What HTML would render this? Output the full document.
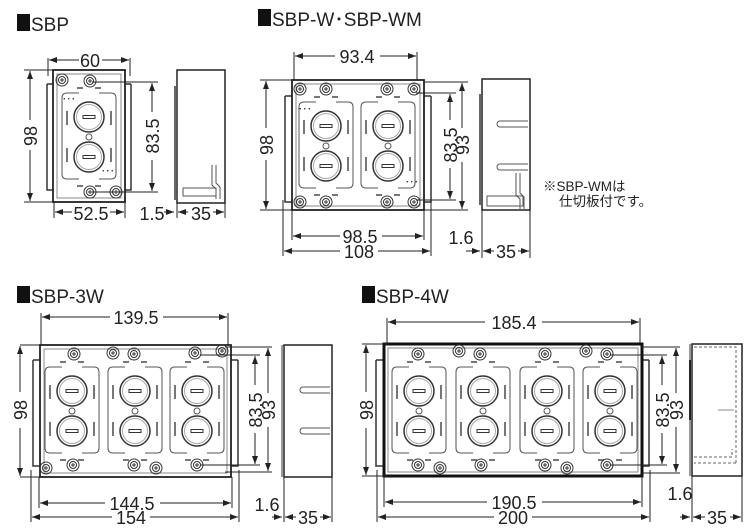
<!DOCTYPE html>
<html><head><meta charset="utf-8">
<style>
html,body{margin:0;padding:0;background:#fff;}
svg{display:block;}
text{font-family:"Liberation Sans","Noto Sans CJK JP",sans-serif;fill:#222;}
.n{font-size:18px;}
.t{font-size:19px;}
</style></head><body>
<svg width="750" height="528" viewBox="0 0 750 528" xmlns="http://www.w3.org/2000/svg">
<defs>
<marker id="a" markerWidth="8" markerHeight="6" refX="8" refY="3" orient="auto-start-reverse" markerUnits="userSpaceOnUse"><path d="M0,0 L8,3 L0,6 z" fill="#222"/></marker>
<g id="gang" fill="none" stroke="#555" stroke-width="1">
  <path d="M-10,-43 h-12 q-5,0 -5,5 v76 q0,5 5,5 h12 M10,-43 h12 q5,0 5,5 v76 q0,5 -5,5 h-12" />
  <circle cx="0" cy="-19" r="15" stroke="#333" stroke-width="1.5"/>
  <circle cx="0" cy="-19" r="12.5" stroke="#aaa"/>
  <rect x="-6" y="-20.5" width="12" height="3" stroke="#333"/>
  <circle cx="0" cy="21" r="15" stroke="#333" stroke-width="1.5"/>
  <circle cx="0" cy="21" r="12.5" stroke="#aaa"/>
  <rect x="-6" y="19.5" width="12" height="3" stroke="#333"/>
  <circle cx="0" cy="1" r="3"/>
  <path d="M-22,-25 v14 M-22,12 v14 M22,-25 v14 M22,12 v14" stroke="#777" stroke-width="2"/>
  <path d="M-12,-48 h6 M6,-48 h6 M-12,50 h6 M6,50 h6" stroke="#777" stroke-width="2"/>
</g>
<g id="screw" fill="none" stroke="#333"><circle r="6"/><circle r="3.5"/><path d="M-2,0h4M0,-2v4"/></g>
</defs>

<!-- ===== SBP ===== -->
<rect x="17" y="14" width="13" height="17" fill="#111"/>
<text x="31" y="31" class="t">SBP</text>
<line x1="48" y1="58" x2="48" y2="76" stroke="#222"/><line x1="130" y1="58" x2="130" y2="76" stroke="#222"/>
<line x1="49" y1="60" x2="79" y2="60" stroke="#222" marker-start="url(#a)"/>
<line x1="102" y1="60" x2="129" y2="60" stroke="#222" marker-end="url(#a)"/>
<text x="90" y="67" class="n" text-anchor="middle">60</text>
<path d="M47,84 h6 M47,84 v106 h6 M131,84 h-6 M131,84 v106 h-6" fill="none" stroke="#333" stroke-width="1.5"/>
<rect x="53" y="70" width="72" height="132" fill="#fff" stroke="#222" stroke-width="1.8"/>
<rect x="57" y="74" width="64" height="124" fill="none" stroke="#888"/>
<use href="#gang" x="89" y="136"/>
<use href="#screw" x="62" y="80"/><use href="#screw" x="90" y="81"/>
<use href="#screw" x="90" y="192"/><use href="#screw" x="116" y="192"/>
<text x="62" y="102" font-size="9">･･･</text><text x="101" y="174" font-size="9">･･･</text>
<line x1="24" y1="70" x2="58" y2="70" stroke="#222"/><line x1="24" y1="202" x2="56" y2="202" stroke="#222"/>
<line x1="30" y1="71" x2="30" y2="120" stroke="#222" marker-start="url(#a)"/>
<line x1="30" y1="150" x2="30" y2="201" stroke="#222" marker-end="url(#a)"/>
<text transform="translate(37,136) rotate(-90)" class="n" text-anchor="middle">98</text>
<line x1="92" y1="82" x2="158" y2="82" stroke="#222"/><line x1="92" y1="192" x2="158" y2="192" stroke="#222"/>
<line x1="152" y1="83" x2="152" y2="112" stroke="#222" marker-start="url(#a)"/>
<line x1="152" y1="160" x2="152" y2="191" stroke="#222" marker-end="url(#a)"/>
<text transform="translate(159,136) rotate(-90)" class="n" text-anchor="middle">83.5</text>
<line x1="54" y1="202" x2="54" y2="218" stroke="#222"/><line x1="125" y1="202" x2="125" y2="218" stroke="#222"/>
<line x1="55" y1="212" x2="72" y2="212" stroke="#222" marker-start="url(#a)"/>
<line x1="110" y1="212" x2="124" y2="212" stroke="#222" marker-end="url(#a)"/>
<text x="91" y="220" class="n" text-anchor="middle">52.5</text>
<text x="152" y="220" class="n" text-anchor="middle">1.5</text>
<line x1="164" y1="212" x2="174" y2="212" stroke="#222" marker-end="url(#a)"/>
<rect x="177" y="70" width="48" height="133" fill="#fff" stroke="#222" stroke-width="1.5"/>
<line x1="175" y1="86" x2="175" y2="200" stroke="#333" stroke-width="1.5"/>
<path d="M212,165 v20 l4,4 v10 M216,165 v18 l4,4 v12 M183,188 h33 v8 h-33z" fill="none" stroke="#555"/>
<line x1="177" y1="203" x2="177" y2="218" stroke="#222"/><line x1="225" y1="203" x2="225" y2="218" stroke="#222"/>
<line x1="178" y1="212" x2="188" y2="212" stroke="#222" marker-start="url(#a)"/>
<line x1="213" y1="212" x2="224" y2="212" stroke="#222" marker-end="url(#a)"/>
<text x="201" y="220" class="n" text-anchor="middle">35</text>

<!-- ===== SBP-W ===== -->
<rect x="258" y="9" width="13" height="17" fill="#111"/>
<text x="272" y="26" class="t">SBP-W･SBP-WM</text>
<line x1="294" y1="52" x2="294" y2="82" stroke="#222"/><line x1="417" y1="52" x2="417" y2="82" stroke="#222"/>
<line x1="295" y1="56" x2="335" y2="56" stroke="#222" marker-start="url(#a)"/>
<line x1="380" y1="56" x2="416" y2="56" stroke="#222" marker-end="url(#a)"/>
<text x="357" y="63" class="n" text-anchor="middle">93.4</text>
<path d="M285,96 h7 M285,96 v106 h7 M431,96 h-7 M431,96 v106 h-7" fill="none" stroke="#333" stroke-width="1.5"/>
<rect x="292" y="80" width="132" height="130" fill="#fff" stroke="#222" stroke-width="1.8"/>
<rect x="296" y="84" width="124" height="122" fill="none" stroke="#888"/>
<use href="#gang" x="326" y="145"/><use href="#gang" x="388" y="145"/>
<use href="#screw" x="300" y="89"/><use href="#screw" x="326" y="89"/><use href="#screw" x="387" y="89"/><use href="#screw" x="414" y="89"/>
<use href="#screw" x="300" y="202"/><use href="#screw" x="326" y="202"/><use href="#screw" x="387" y="202"/><use href="#screw" x="414" y="202"/>
<text x="298" y="112" font-size="9">･･･</text><text x="405" y="185" font-size="9">･･･</text>
<line x1="260" y1="80" x2="294" y2="80" stroke="#222"/><line x1="260" y1="210" x2="294" y2="210" stroke="#222"/>
<line x1="266" y1="81" x2="266" y2="128" stroke="#222" marker-start="url(#a)"/>
<line x1="266" y1="160" x2="266" y2="209" stroke="#222" marker-end="url(#a)"/>
<text transform="translate(273,145) rotate(-90)" class="n" text-anchor="middle">98</text>
<line x1="416" y1="93" x2="456" y2="93" stroke="#222"/><line x1="416" y1="200" x2="456" y2="200" stroke="#222"/>
<line x1="424" y1="82" x2="468" y2="82" stroke="#222"/><line x1="424" y1="210" x2="468" y2="210" stroke="#222"/>
<line x1="450" y1="94" x2="450" y2="120" stroke="#222" marker-start="url(#a)"/>
<line x1="450" y1="168" x2="450" y2="199" stroke="#222" marker-end="url(#a)"/>
<text transform="translate(457,145) rotate(-90)" class="n" text-anchor="middle">83.5</text>
<line x1="462" y1="83" x2="462" y2="128" stroke="#222" marker-start="url(#a)"/>
<line x1="462" y1="162" x2="462" y2="209" stroke="#222" marker-end="url(#a)"/>
<text transform="translate(469,145) rotate(-90)" class="n" text-anchor="middle">93</text>
<line x1="292" y1="210" x2="292" y2="240" stroke="#222"/><line x1="424" y1="210" x2="424" y2="240" stroke="#222"/>
<line x1="283" y1="200" x2="283" y2="256" stroke="#222"/><line x1="431" y1="200" x2="431" y2="256" stroke="#222"/>
<line x1="293" y1="236" x2="340" y2="236" stroke="#222" marker-start="url(#a)"/>
<line x1="382" y1="236" x2="423" y2="236" stroke="#222" marker-end="url(#a)"/>
<text x="360" y="243" class="n" text-anchor="middle">98.5</text>
<line x1="284" y1="251" x2="340" y2="251" stroke="#222" marker-start="url(#a)"/>
<line x1="378" y1="251" x2="430" y2="251" stroke="#222" marker-end="url(#a)"/>
<text x="359" y="258" class="n" text-anchor="middle">108</text>
<text x="461" y="244" class="n" text-anchor="middle">1.6</text>
<rect x="482" y="79" width="48" height="131" fill="#fff" stroke="#222" stroke-width="1.5"/>
<line x1="480" y1="94" x2="480" y2="205" stroke="#333" stroke-width="1.5"/>
<path d="M500,121 h28 M500,127 h28 M500,164 h28 M500,170 h28" stroke="#555" fill="none"/>
<path d="M500,121 a3,3 0 0 0 0,6 M500,164 a3,3 0 0 0 0,6" stroke="#555" fill="none"/>
<path d="M516,173 v22 l4,4 v10 M520,173 v20 l4,4 v12 M487,196 h36 v10 h-36z" fill="none" stroke="#555"/>
<line x1="482" y1="210" x2="482" y2="258" stroke="#222"/><line x1="530" y1="210" x2="530" y2="258" stroke="#222"/>
<line x1="466" y1="251" x2="480" y2="251" stroke="#222" marker-end="url(#a)"/>
<line x1="483" y1="251" x2="494" y2="251" stroke="#222" marker-start="url(#a)"/>
<line x1="518" y1="251" x2="529" y2="251" stroke="#222" marker-end="url(#a)"/>
<text x="506" y="258" class="n" text-anchor="middle">35</text>
<text x="543" y="191" font-size="13.5">※SBP-WMは</text>
<text x="559" y="206" font-size="13.5">仕切板付です。</text>

<!-- ===== SBP-3W ===== -->
<rect x="17" y="286" width="13" height="17" fill="#111"/>
<text x="31" y="303" class="t">SBP-3W</text>
<line x1="41" y1="313" x2="41" y2="345" stroke="#222"/><line x1="228" y1="313" x2="228" y2="345" stroke="#222"/>
<line x1="42" y1="317" x2="110" y2="317" stroke="#222" marker-start="url(#a)"/>
<line x1="163" y1="317" x2="227" y2="317" stroke="#222" marker-end="url(#a)"/>
<text x="136" y="324" class="n" text-anchor="middle">139.5</text>
<path d="M33,360 h7 M33,360 v106 h7 M238,360 h-7 M238,360 v106 h-7" fill="none" stroke="#333" stroke-width="1.5"/>
<rect x="40" y="345" width="191" height="132" fill="#fff" stroke="#222" stroke-width="1.8"/>
<rect x="44" y="349" width="183" height="124" fill="none" stroke="#888"/>
<use href="#gang" x="72" y="410"/><use href="#gang" x="135" y="410"/><use href="#gang" x="197" y="410"/>
<use href="#screw" x="74" y="354"/><use href="#screw" x="113" y="353"/><use href="#screw" x="134" y="354"/><use href="#screw" x="195" y="353"/><use href="#screw" x="222" y="351"/>
<use href="#screw" x="46" y="468"/><use href="#screw" x="73" y="465"/><use href="#screw" x="134" y="465"/><use href="#screw" x="156" y="468"/><use href="#screw" x="197" y="465"/>
<line x1="20" y1="345" x2="44" y2="345" stroke="#222"/><line x1="20" y1="477" x2="44" y2="477" stroke="#222"/>
<line x1="20" y1="346" x2="20" y2="392" stroke="#222" marker-start="url(#a)"/>
<line x1="20" y1="428" x2="20" y2="476" stroke="#222" marker-end="url(#a)"/>
<text transform="translate(27,410) rotate(-90)" class="n" text-anchor="middle">98</text>
<line x1="200" y1="355" x2="260" y2="355" stroke="#222"/><line x1="200" y1="465" x2="260" y2="465" stroke="#222"/>
<line x1="225" y1="347" x2="272" y2="347" stroke="#222"/><line x1="225" y1="472" x2="272" y2="472" stroke="#222"/>
<line x1="255" y1="356" x2="255" y2="385" stroke="#222" marker-start="url(#a)"/>
<line x1="255" y1="433" x2="255" y2="464" stroke="#222" marker-end="url(#a)"/>
<text transform="translate(262,410) rotate(-90)" class="n" text-anchor="middle">83.5</text>
<line x1="268" y1="348" x2="268" y2="393" stroke="#222" marker-start="url(#a)"/>
<line x1="268" y1="427" x2="268" y2="471" stroke="#222" marker-end="url(#a)"/>
<text transform="translate(275,410) rotate(-90)" class="n" text-anchor="middle">93</text>
<line x1="39" y1="477" x2="39" y2="508" stroke="#222"/><line x1="232" y1="477" x2="232" y2="508" stroke="#222"/>
<line x1="31" y1="470" x2="31" y2="522" stroke="#222"/><line x1="239" y1="470" x2="239" y2="522" stroke="#222"/>
<line x1="40" y1="503" x2="105" y2="503" stroke="#222" marker-start="url(#a)"/>
<line x1="160" y1="503" x2="231" y2="503" stroke="#222" marker-end="url(#a)"/>
<text x="132" y="510" class="n" text-anchor="middle">144.5</text>
<line x1="32" y1="517" x2="112" y2="517" stroke="#222" marker-start="url(#a)"/>
<line x1="150" y1="517" x2="238" y2="517" stroke="#222" marker-end="url(#a)"/>
<text x="131" y="524" class="n" text-anchor="middle">154</text>
<text x="267" y="511" class="n" text-anchor="middle">1.6</text>
<rect x="284" y="345" width="48" height="132" fill="#fff" stroke="#222" stroke-width="1.5"/>
<line x1="282" y1="345" x2="282" y2="477" stroke="#333" stroke-width="1"/>
<path d="M303,387 h27 M303,393 h27 M303,428 h27 M303,434 h27" stroke="#555" fill="none"/>
<path d="M303,387 a3,3 0 0 0 0,6 M303,428 a3,3 0 0 0 0,6" stroke="#555" fill="none"/>
<line x1="284" y1="477" x2="284" y2="522" stroke="#222"/><line x1="332" y1="477" x2="332" y2="522" stroke="#222"/>
<line x1="272" y1="517" x2="282" y2="517" stroke="#222" marker-end="url(#a)"/>
<line x1="285" y1="517" x2="296" y2="517" stroke="#222" marker-start="url(#a)"/>
<line x1="320" y1="517" x2="331" y2="517" stroke="#222" marker-end="url(#a)"/>
<text x="308" y="524" class="n" text-anchor="middle">35</text>

<!-- ===== SBP-4W ===== -->
<rect x="362" y="286" width="13" height="17" fill="#111"/>
<text x="376" y="303" class="t">SBP-4W</text>
<line x1="387" y1="318" x2="387" y2="345" stroke="#222"/><line x1="640" y1="318" x2="640" y2="345" stroke="#222"/>
<line x1="388" y1="322" x2="485" y2="322" stroke="#222" marker-start="url(#a)"/>
<line x1="542" y1="322" x2="639" y2="322" stroke="#222" marker-end="url(#a)"/>
<text x="514" y="329" class="n" text-anchor="middle">185.4</text>
<path d="M376,360 h7 M376,360 v106 h7 M649,360 h-7 M649,360 v106 h-7" fill="none" stroke="#333" stroke-width="1.5"/>
<rect x="384" y="344" width="258" height="132" fill="#fff" stroke="#111" stroke-width="3"/>
<rect x="388" y="348" width="250" height="124" fill="none" stroke="#888"/>
<use href="#gang" x="419" y="410"/><use href="#gang" x="483" y="410"/><use href="#gang" x="547" y="410"/><use href="#gang" x="610" y="410"/>
<use href="#screw" x="418" y="354"/><use href="#screw" x="459" y="351"/><use href="#screw" x="480" y="354"/><use href="#screw" x="545" y="354"/><use href="#screw" x="586" y="351"/><use href="#screw" x="607" y="354"/>
<use href="#screw" x="418" y="465"/><use href="#screw" x="440" y="468"/><use href="#screw" x="481" y="465"/><use href="#screw" x="545" y="465"/><use href="#screw" x="567" y="468"/><use href="#screw" x="607" y="465"/>
<line x1="362" y1="344" x2="388" y2="344" stroke="#222"/><line x1="362" y1="476" x2="388" y2="476" stroke="#222"/>
<line x1="366" y1="345" x2="366" y2="392" stroke="#222" marker-start="url(#a)"/>
<line x1="366" y1="428" x2="366" y2="475" stroke="#222" marker-end="url(#a)"/>
<text transform="translate(373,410) rotate(-90)" class="n" text-anchor="middle">98</text>
<line x1="610" y1="355" x2="667" y2="355" stroke="#222"/><line x1="610" y1="465" x2="667" y2="465" stroke="#222"/>
<line x1="642" y1="347" x2="680" y2="347" stroke="#222"/><line x1="642" y1="473" x2="680" y2="473" stroke="#222"/>
<line x1="662" y1="356" x2="662" y2="385" stroke="#222" marker-start="url(#a)"/>
<line x1="662" y1="433" x2="662" y2="464" stroke="#222" marker-end="url(#a)"/>
<text transform="translate(669,410) rotate(-90)" class="n" text-anchor="middle">83.5</text>
<line x1="676" y1="348" x2="676" y2="393" stroke="#222" marker-start="url(#a)"/>
<line x1="676" y1="427" x2="676" y2="472" stroke="#222" marker-end="url(#a)"/>
<text transform="translate(683,410) rotate(-90)" class="n" text-anchor="middle">93</text>
<line x1="384" y1="476" x2="384" y2="507" stroke="#222"/><line x1="642" y1="476" x2="642" y2="507" stroke="#222"/>
<line x1="377" y1="470" x2="377" y2="522" stroke="#222"/><line x1="650" y1="470" x2="650" y2="522" stroke="#222"/>
<line x1="385" y1="502" x2="487" y2="502" stroke="#222" marker-start="url(#a)"/>
<line x1="542" y1="502" x2="641" y2="502" stroke="#222" marker-end="url(#a)"/>
<text x="514" y="509" class="n" text-anchor="middle">190.5</text>
<line x1="378" y1="517" x2="494" y2="517" stroke="#222" marker-start="url(#a)"/>
<line x1="532" y1="517" x2="649" y2="517" stroke="#222" marker-end="url(#a)"/>
<text x="513" y="524" class="n" text-anchor="middle">200</text>
<text x="680" y="500" class="n" text-anchor="middle">1.6</text>
<rect x="692" y="344" width="50" height="132" fill="#fff" stroke="#222" stroke-width="1.5"/>
<line x1="690" y1="360" x2="690" y2="420" stroke="#111" stroke-width="2"/>
<line x1="690" y1="344" x2="690" y2="476" stroke="#333"/>
<path d="M694,347 h42 v116 M736,463 h-42 M694,457 h38 v-8" stroke="#666" fill="none" stroke-dasharray="3,2"/>
<line x1="718" y1="410" x2="734" y2="410" stroke="#888"/>
<line x1="692" y1="476" x2="692" y2="522" stroke="#222"/><line x1="742" y1="476" x2="742" y2="522" stroke="#222"/>
<line x1="680" y1="517" x2="690" y2="517" stroke="#222" marker-end="url(#a)"/>
<line x1="693" y1="517" x2="705" y2="517" stroke="#222" marker-start="url(#a)"/>
<line x1="730" y1="517" x2="741" y2="517" stroke="#222" marker-end="url(#a)"/>
<text x="717" y="524" class="n" text-anchor="middle">35</text>
</svg>
</body></html>
